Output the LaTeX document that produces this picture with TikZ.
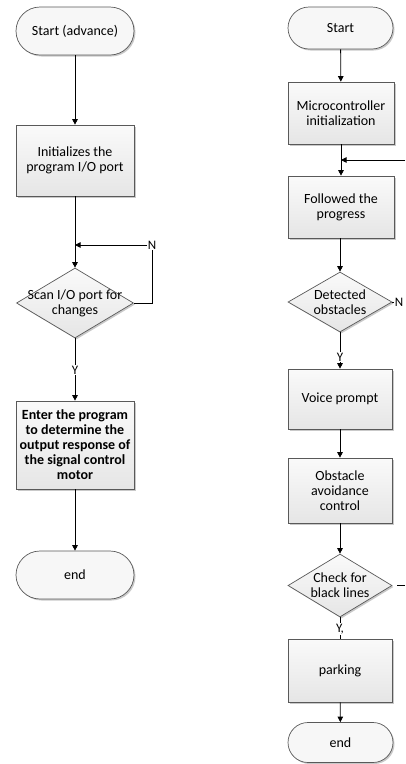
\documentclass[tikz,border=0pt]{standalone}
\usepackage{fontspec}
\setmainfont{Carlito}
\usetikzlibrary{arrows.meta,shapes.geometric,shadows}
\begin{document}
\begin{tikzpicture}[x=1pt,y=-1pt,
  font=\fontsize{14}{15}\selectfont,
  outline/.style={draw=black!65, line width=0.7pt},
  softshadow/.style={drop shadow={shadow xshift=1.5pt,shadow yshift=-1.5pt,fill=black!30,opacity=0.7}},
  procbox/.style={outline, rectangle, top color=black!2, bottom color=black!10, softshadow, align=center, inner sep=2pt},
  termbox/.style={outline, rectangle, rounded corners=#1, fill=black!3, softshadow, align=center, inner sep=2pt},
  decbox/.style={outline, diamond, top color=black!2, bottom color=black!10, inner sep=0pt, softshadow},
  txt/.style={align=center, inner sep=0pt},
  flow/.style={line width=0.8pt, -{Triangle[width=5.5pt,length=5.5pt]}},
  plain/.style={line width=0.8pt},
  lbl/.style={inner sep=0.5pt, font=\fontsize{13}{14}\selectfont}
]
\useasboundingbox (0,0) rectangle (405,764);

% ---------- left column ----------
\node[termbox=24pt, minimum width=118pt, minimum height=48pt] (s1) at (75,31) {Start (advance)};
\node[procbox, minimum width=118pt, minimum height=71pt] (i1) at (75,160.5) {Initializes the\\program I/O port};
\node[decbox, minimum width=117pt, minimum height=70pt] (d1) at (75,303) {};
\node[txt] (d1t) at (75,303) {Scan I/O port for\\changes};
\node[lbl] (n1) at (152,245) {N};
\node[lbl] (y1) at (75,370) {Y};
\node[procbox, minimum width=118pt, minimum height=88pt, font=\fontsize{14}{15}\selectfont\bfseries] (e1) at (75,445)
  {Enter the program\\to determine the\\output response of\\the signal control\\motor};
\node[termbox=24pt, minimum width=118pt, minimum height=48pt] (end1) at (75,575) {end};

\draw[flow] (s1) -- (i1);
\draw[flow] (i1) -- (d1);
\draw[plain] (d1.east) -| (n1.south);
\coordinate (j1) at (i1.south |- n1.west);
\draw[flow] (n1.west) -- (j1);
\draw[plain] (d1) -- (y1);
\draw[flow] (y1) -- (e1);
\draw[flow] (e1) -- (end1);

% ---------- right column ----------
\node[termbox=21pt, minimum width=105pt, minimum height=42pt] (s2) at (340.5,28) {Start};
\node[procbox, minimum width=106pt, minimum height=62pt] (m2) at (341,113) {Microcontroller\\initialization};
\node[procbox, minimum width=106pt, minimum height=62pt] (f2) at (341,207) {Followed the\\progress};
\node[decbox, minimum width=104pt, minimum height=60pt] (d2) at (340,302) {};
\node[txt] (d2t) at (340,302) {Detected\\obstacles};
\node[lbl] (n2) at (399,302) {N};
\node[lbl] (y2) at (340,357) {Y};
\node[procbox, minimum width=104pt, minimum height=60pt] (v2) at (340,399) {Voice prompt};
\node[procbox, minimum width=104pt, minimum height=65pt] (o2) at (340,490.5) {Obstacle\\avoidance\\control};
\node[decbox, minimum width=104pt, minimum height=63pt] (c2) at (340,585.5) {};
\node[txt] (c2t) at (340,585.5) {Check for\\black lines};
\node[lbl] (y3) at (340,629) {Y,};
\node[procbox, minimum width=104pt, minimum height=63pt] (p2) at (340,670.5) {parking};
\node[termbox=20pt, minimum width=105pt, minimum height=40pt] (end2) at (340.5,742.5) {end};

\coordinate (r1) at (405,160);
\coordinate (c2a) at (397,585.5);
\coordinate (r2) at (405,585.5);

\draw[flow] (s2) -- (m2);
\draw[flow] (m2.south -| f2.north) -- (f2.north);
\draw[flow] (r1) -- (r1 -| m2.south);
\draw[flow] (f2.south -| d2.north) -- (d2.north);
\draw[plain] (d2.east) -- (n2.west);
\draw[plain] (d2) -- (y2);
\draw[flow] (y2) -- (v2);
\draw[flow] (v2) -- (o2);
\draw[flow] (o2) -- (c2);
\draw[plain] (c2a) -- (r2);
\draw[plain] (c2) -- (y3);
\draw[plain] (y3) -- (p2);
\draw[flow] (p2) -- (end2);
\end{tikzpicture}
\end{document}
